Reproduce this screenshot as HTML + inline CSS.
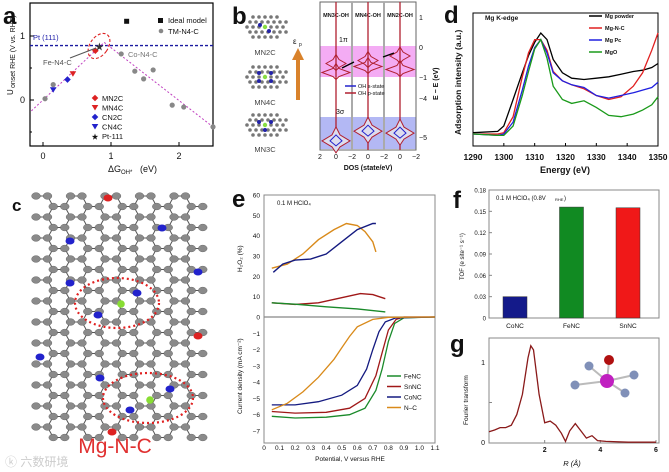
<!DOCTYPE html>
<html><head><meta charset="utf-8"><style>
body{margin:0;background:#fff}
svg{display:block;font-family:"Liberation Sans","Noto Sans CJK SC",sans-serif}
</style></head><body>
<svg id="s" width="669" height="472" viewBox="0 0 669 472" xmlns="http://www.w3.org/2000/svg">
<g id="ga"></g>
<g id="gb"></g>
<g id="gc"></g>
<g id="gd"></g>
<g id="ge"></g>
<g id="gf"></g>
<g id="gg"></g>
</svg>
<script>
// ---------- data ----------
const aTMx=[0.03,0.15,1.15,1.35,1.48,1.62,1.9,2.07,2.5];
const aTMy=[0.02,0.24,0.72,0.45,0.33,0.47,-0.08,-0.11,-0.42];
const aVolcX=[-0.17,0.9,2.5];
const aVolcY=[-0.17,0.9,-0.42];
const aIdeal=[1.23,1.23];
const aMN2C=[0.77,0.77],aMN4C=[0.44,0.41],aCN2C=[0.36,0.32],aCN4C=[0.15,0.16],aPt=[0.83,0.83];
const aPtLine=0.85;
const dX=[1290,1298,1300,1303,1306,1308,1310,1312,1314,1316,1319,1322,1326,1330,1334,1338,1342,1345,1348,1350];
const dBlack=[0.10,0.11,0.15,0.35,0.55,0.68,0.78,0.85,0.80,0.65,0.55,0.51,0.50,0.51,0.52,0.54,0.56,0.57,0.59,0.62];
const dRed=[0.09,0.09,0.10,0.22,0.52,0.70,0.80,0.80,0.72,0.56,0.49,0.46,0.43,0.38,0.35,0.37,0.45,0.55,0.72,0.85];
const dBlue=[0.09,0.08,0.09,0.18,0.42,0.60,0.74,0.80,0.70,0.55,0.49,0.46,0.44,0.38,0.36,0.38,0.40,0.42,0.44,0.48];
const dGreen=[0.09,0.08,0.08,0.15,0.38,0.56,0.73,0.80,0.66,0.45,0.35,0.32,0.34,0.29,0.23,0.22,0.24,0.27,0.31,0.37];
const eH2X_NC=[0.05,0.15,0.25,0.35,0.45,0.53,0.6,0.65,0.7,0.72], eH2_NC=[24,26,31,38,43,46,45,42,37,32];
const eH2X_Co=[0.06,0.12,0.2,0.3,0.4,0.5,0.6,0.7,0.72], eH2_Co=[22,26,28,28.5,31,37,43,46,46];
const eH2X_Sn=[0.05,0.2,0.35,0.5,0.62,0.7,0.78], eH2_Sn=[7,6.2,7,9.5,11.5,11,9];
const eH2X_Fe=[0.05,0.2,0.4,0.6,0.78], eH2_Fe=[7,6.3,5,4,2.5];
const eJX_Fe=[0.05,0.2,0.4,0.55,0.65,0.72,0.76,0.8,0.84,0.9,1.1], eJ_Fe=[-6.1,-6.2,-6.15,-6.0,-5.6,-4.5,-3.2,-1.5,-0.4,-0.05,0];
const eJX_Sn=[0.05,0.2,0.4,0.55,0.65,0.72,0.76,0.8,0.85,0.9,1.1], eJ_Sn=[-5.8,-5.9,-5.85,-5.6,-5.0,-3.6,-2.2,-0.8,-0.15,0,0];
const eJX_Co=[0.05,0.2,0.35,0.5,0.6,0.66,0.7,0.74,0.78,0.85,1.1], eJ_Co=[-5.4,-5.4,-5.2,-4.8,-4.2,-3.2,-2.0,-0.9,-0.3,-0.05,0];
const eJX_NC=[0.05,0.15,0.25,0.35,0.45,0.5,0.55,0.6,0.7,0.8,1.1], eJ_NC=[-5.7,-5.3,-4.6,-3.7,-2.6,-1.9,-1.2,-0.6,-0.15,-0.02,0];
const fCats=['CoNC','FeNC','SnNC'];
const fVals=[0.03,0.156,0.155];
const fTicks=['0','0.03','0.06','0.09','0.12','0.15','0.18'];
const gR=[0,0.2,0.4,0.6,0.8,1.0,1.2,1.4,1.5,1.6,1.8,2.0,2.2,2.4,2.6,2.75,2.9,3.1,3.3,3.5,3.7,3.9,4.2,5,6];
const gFT=[0.14,0.16,0.19,0.19,0.22,0.35,0.6,1.05,1.2,1.15,0.6,0.25,0.27,0.22,0.12,0.02,0.15,0.24,0.15,0.06,0.09,0.03,0.02,0.01,0.01];

// ---------- helpers ----------
const NS='http://www.w3.org/2000/svg';
function el(p,tag,at,txt){const e=document.createElementNS(NS,tag);for(const k in at)e.setAttribute(k,at[k]);if(txt!==undefined)e.textContent=txt;p.appendChild(e);return e;}
function T(p,x,y,s,txt,extra){return el(p,'text',Object.assign({x:x,y:y,'font-size':s,fill:'#111'},extra||{}),txt);}
function line(p,xs,ys,sx,sy,col,w,dash){let d='';xs.forEach((x,i)=>{d+=(i?'L':'M')+sx(x).toFixed(1)+','+sy(ys[i]).toFixed(1);});const a={d:d,fill:'none',stroke:col,'stroke-width':w||1.2};if(dash)a['stroke-dasharray']=dash;return el(p,'path',a);}
const lin=(d0,d1,r0,r1)=>v=>r0+(v-d0)*(r1-r0)/(d1-d0);

// ---------- panel a ----------
(function(){const g=document.getElementById('ga');
const sx=lin(0,1,43,111), sy=lin(0,1,100,36);
T(g,3,24,24,'a',{'font-weight':'bold'});
el(g,'rect',{x:30,y:3,width:183,height:143,fill:'none',stroke:'#000','stroke-width':1.2});
[0,1,2].forEach(v=>{el(g,'line',{x1:sx(v),x2:sx(v),y1:146,y2:142,stroke:'#000'});T(g,sx(v),159,9,String(v),{'text-anchor':'middle'});});
[[1,'1'],[0,'0']].forEach(([v,t])=>{el(g,'line',{x1:30,x2:34,y1:sy(v),y2:sy(v),stroke:'#000'});T(g,25,sy(v)+3,9,t,{'text-anchor':'end'});});
[0.5,-0.5].forEach(v=>el(g,'line',{x1:30,x2:32,y1:sy(v),y2:sy(v),stroke:'#000'}));
T(g,121,172,9,'ΔG',{'text-anchor':'end'});
T(g,121,174,6,'OH*');T(g,140,172,9,' (eV)');
const yt=T(g,0,0,8,'U',{transform:'translate(13,95) rotate(-90)'});
T(g,0,0,7,'onset RHE (V vs. RHE)',{transform:'translate(15,88) rotate(-90)'});
el(g,'line',{x1:30,x2:213,y1:sy(aPtLine),y2:sy(aPtLine),stroke:'#1a1aa0','stroke-width':1.4,'stroke-dasharray':'3,2'});
T(g,33,40,7.5,'Pt (111)',{fill:'#2222aa'});
line(g,aVolcX,aVolcY,sx,sy,'#c040c0',1,'2,2');
aTMx.forEach((x,i)=>{const c=el(g,'circle',{cx:sx(x),cy:sy(aTMy[i]),r:2.6,fill:'#888'});});
el(g,'rect',{x:sx(aIdeal[0])-2.5,y:sy(aIdeal[1])-2.5,width:5,height:5,fill:'#111'});
const dia=(x,y,c)=>el(g,'path',{d:`M${x},${y-3.3}L${x+3.3},${y}L${x},${y+3.3}L${x-3.3},${y}Z`,fill:c});
const tri=(x,y,c)=>el(g,'path',{d:`M${x-3.3},${y-2.5}L${x+3.3},${y-2.5}L${x},${y+3}Z`,fill:c});
dia(sx(aMN2C[0]),sy(aMN2C[1]),'#d22');tri(sx(aMN4C[0]),sy(aMN4C[1]),'#d22');dia(sx(aCN2C[0]),sy(aCN2C[1]),'#22c');tri(sx(aCN4C[0]),sy(aCN4C[1]),'#22c');
T(g,sx(aPt[0]),sy(aPt[1])+3,9,'★',{'text-anchor':'middle',fill:'#333'});
el(g,'ellipse',{cx:99,cy:46,rx:9,ry:14,fill:'none',stroke:'#d22','stroke-width':1.1,'stroke-dasharray':'3,2',transform:'rotate(35 99 46)'});
T(g,43,65,7.5,'Fe-N4-C',{fill:'#555'});el(g,'line',{x1:70,y1:58,x2:96,y2:48,stroke:'#555','stroke-width':1});
T(g,128,57,7.5,'Co-N4-C',{fill:'#777'});
el(g,'rect',{x:158,y:18,width:5,height:5,fill:'#111'});T(g,168,23,7.5,'Ideal model');
el(g,'circle',{cx:161,cy:31,r:2.3,fill:'#888'});T(g,168,34,7.5,'TM-N4-C');
const L=[['MN2C',dia,'#d22'],['MN4C',tri,'#d22'],['CN2C',dia,'#22c'],['CN4C',tri,'#22c']];
L.forEach((l,i)=>{const y=98+i*9.5;l[1](95,y,l[2]);T(g,102,y+3,7.5,l[0]);});
T(g,95,139,7,'★',{'text-anchor':'middle'});T(g,102,139,7.5,'Pt-111');
})();

// ---------- panel b ----------
(function(){const g=document.getElementById('gb');
T(g,232,24,24,'b',{'font-weight':'bold'});
function cluster(cx,cy,blue){for(let r=-2;r<=2;r++)for(let c=-3;c<=3;c++){if(Math.abs(r)+Math.abs(c)>4)continue;const x=cx+c*6+(r%2?3:0),y=cy+r*5;el(g,'circle',{cx:x,cy:y,r:1.8,fill:'#777'});}
 blue.forEach(p=>el(g,'circle',{cx:cx+p[0],cy:cy+p[1],r:2,fill:'#22a'}));el(g,'circle',{cx:cx,cy:cy,r:2.2,fill:'#8d4'});}
cluster(265,27,[[-5,-2],[4,4]]);cluster(265,77,[[-6,-4],[6,-4],[-6,4],[6,4]]);cluster(265,125,[[-6,-3],[6,-3],[0,5]]);
T(g,265,55,7.5,'MN2C',{'text-anchor':'middle',fill:'#444'});T(g,265,105,7.5,'MN4C',{'text-anchor':'middle',fill:'#444'});T(g,265,152,7.5,'MN3C',{'text-anchor':'middle',fill:'#444'});
el(g,'path',{d:'M296,100L296,60L292,60L298,48L304,60L300,60L300,100Z',fill:'#d9822b'});
T(g,293,44,8,'ε');T(g,299,46,5,'p');
el(g,'rect',{x:320,y:46,width:96,height:31,fill:'#f090f0',opacity:0.75});
el(g,'rect',{x:320,y:117,width:96,height:32,fill:'#9aa0f0',opacity:0.75});
el(g,'rect',{x:320,y:2,width:96,height:148,fill:'none',stroke:'#666'});
[352,384].forEach(x=>el(g,'line',{x1:x,x2:x,y1:2,y2:150,stroke:'#aaa','stroke-width':2}));
['MN3C-OH','MN4C-OH','MN2C-OH'].forEach((t,i)=>T(g,336+i*32,17,5.5,t,{'text-anchor':'middle','font-weight':'bold'}));
const up=lin(0,1,47,17), lo=lin(-4,-5,98,137);
const peaks=[[-0.55,-0.85,-5.1],[-0.45,-0.65,-4.85],[-0.3,-0.75,-4.9]];
[336,368,400].forEach((cx,i)=>{el(g,'line',{x1:cx,x2:cx,y1:2,y2:150,stroke:'#b02030','stroke-width':1.3});
 const p=peaks[i];
 [[p[0],10],[p[1],14]].forEach(([e,w])=>{const y=up(e);el(g,'path',{d:`M${cx-w},${y}L${cx-3},${y-4}L${cx},${y-9}L${cx+3},${y-4}L${cx+w},${y}L${cx+3},${y+4}L${cx},${y+7}L${cx-3},${y+4}Z`,fill:'none',stroke:'#b02030','stroke-width':1});});
 const y=lo(p[2]);el(g,'path',{d:`M${cx-14},${y}L${cx-4},${y-6}L${cx},${y-14}L${cx+4},${y-6}L${cx+14},${y}L${cx+4},${y+6}L${cx},${y+12}L${cx-4},${y+6}Z`,fill:'#dde',stroke:'#b02030','stroke-width':1});
 el(g,'path',{d:`M${cx-6},${y}L${cx},${y-6}L${cx+6},${y}L${cx},${y+5}Z`,fill:'none',stroke:'#22c','stroke-width':1});});
el(g,'line',{x1:342,y1:68,x2:354,y2:62,stroke:'#000','stroke-width':1.3});el(g,'line',{x1:383,y1:57,x2:394,y2:53,stroke:'#000','stroke-width':1.3});
T(g,339,42,7,'1π');T(g,336,114,7,'3σ');
el(g,'line',{x1:345,x2:356,y1:86,y2:86,stroke:'#22c','stroke-width':1.5});T(g,358,88,5.5,'OH s-state');
el(g,'line',{x1:345,x2:356,y1:93,y2:93,stroke:'#b02030','stroke-width':1.5});T(g,358,95,5.5,'OH p-state');
[['1',17],['0',47],['−1',77],['−4',98],['−5',137]].forEach(([t,y])=>T(g,419,y+3,7,t));
['2','0','−2','0','−2','0','−2'].forEach((t,i)=>T(g,320+i*16,159,7,t,{'text-anchor':'middle'}));
T(g,368,170,7,'DOS (state/eV)',{'text-anchor':'middle','font-weight':'bold'});
T(g,0,0,7,'E − E (eV)',{transform:'translate(438,100) rotate(-90)','font-weight':'bold'});
})();

// ---------- panel c ----------
(function(){const g=document.getElementById('gc');
T(g,12,211,17,'c',{'font-weight':'bold'});
const atoms=[];const a=11.5,dy=10.5;
for(let r=0;r<24;r++)for(let k=-1;k<6;k++){const base=36+k*3*a;const offs=(r%2)?[1.5*a,2.5*a]:[0,a];
 offs.forEach(o=>{const x=base+o;if(x>=33&&x<=208)atoms.push([x,196+r*dy]);});}
atoms.forEach((p,i)=>{atoms.forEach((q,j)=>{if(j<=i)return;const d=Math.hypot(p[0]-q[0],p[1]-q[1]);if(d<a*1.15)el(g,'line',{x1:p[0],y1:p[1],x2:q[0],y2:q[1],stroke:'#555','stroke-width':1});});});
atoms.forEach(p=>el(g,'ellipse',{cx:p[0],cy:p[1],rx:4.4,ry:3.4,fill:'#8a8a8a',stroke:'#555','stroke-width':0.4}));
[[70,241,'#22c'],[70,283,'#22c'],[40,357,'#22c'],[100,378,'#22c'],[162,228,'#22c'],[198,272,'#22c'],[137,293,'#22c'],[98,315,'#22c'],[170,389,'#22c'],[130,410,'#22c'],[108,198,'#d22'],[198,336,'#d22'],[112,432,'#d22']].forEach(p=>el(g,'ellipse',{cx:p[0],cy:p[1],rx:4.5,ry:3.5,fill:p[2]}));
el(g,'circle',{cx:121,cy:304,r:3.8,fill:'#8d3'});el(g,'circle',{cx:150,cy:400,r:3.8,fill:'#8d3'});
el(g,'ellipse',{cx:117,cy:303,rx:42,ry:25,fill:'none',stroke:'#e02020','stroke-width':2.2,'stroke-dasharray':'2,3'});
el(g,'ellipse',{cx:148,cy:398,rx:45,ry:25,fill:'none',stroke:'#e02020','stroke-width':2.2,'stroke-dasharray':'2,3'});
T(g,115,453,21,'Mg-N-C',{'text-anchor':'middle',fill:'#e03030'});
T(g,5,466,12,'ⓚ 六数研境',{fill:'#ccc'});
})();

// ---------- panel d ----------
(function(){const g=document.getElementById('gd');
T(g,444,23,24,'d',{'font-weight':'bold'});
const sx=lin(1290,1350,473,658), sy=v=>146-v*133;
el(g,'rect',{x:473,y:13,width:185,height:133,fill:'none',stroke:'#000','stroke-width':1});
for(let v=1290;v<=1350;v+=10){el(g,'line',{x1:sx(v),x2:sx(v),y1:146,y2:143,stroke:'#000'});T(g,sx(v),160,8.5,String(v),{'text-anchor':'middle','font-weight':'bold'});}
T(g,565,173,9,'Energy (eV)',{'text-anchor':'middle','font-weight':'bold'});
T(g,0,0,8.5,'Adsorption intensity (a.u.)',{transform:'translate(461,135) rotate(-90)','font-weight':'bold'});
T(g,485,20,6.5,'Mg K-edge',{'font-weight':'bold'});
const S=[['Mg powder',dBlack,'#000'],['Mg-N-C',dRed,'#e02020'],['Mg Pc',dBlue,'#2020e0'],['MgO',dGreen,'#1a9a1a']];
S.forEach((s,i)=>{line(g,dX,s[1],sx,sy,s[2],1.3);
 const y=16+i*12;el(g,'line',{x1:589,x2:602,y1:y,y2:y,stroke:s[2],'stroke-width':1.5});T(g,605,y+2,5.5,s[0],{'font-weight':'bold'});});
})();

// ---------- panel e ----------
(function(){const g=document.getElementById('ge');
T(g,232,207,24,'e',{'font-weight':'bold'});
const sx=lin(0,1.1,264,435), sh=lin(0,60,317,195), sj=lin(0,-7,317,431);
el(g,'rect',{x:264,y:195,width:171,height:248,fill:'none',stroke:'#888'});
el(g,'line',{x1:264,x2:435,y1:317,y2:317,stroke:'#888','stroke-width':1.2});
for(let v=10;v<=60;v+=10)T(g,260,sh(v)+2.5,6.5,String(v),{'text-anchor':'end'});
for(let v=0;v>=-7;v--)T(g,260,sj(v)+2.5,6.5,v===0?'0':'−'+(-v),{'text-anchor':'end'});
for(let i=0;i<=11;i++){const v=i/10;T(g,sx(v),450,6.5,i===0?'0':v.toFixed(1),{'text-anchor':'middle'});}
T(g,350,461,6.5,'Potential, V versus RHE',{'text-anchor':'middle'});
T(g,0,0,6.5,'H₂O₂ (%)',{transform:'translate(242,272) rotate(-90)'});
T(g,0,0,6.5,'Current density (mA cm⁻²)',{transform:'translate(242,414) rotate(-90)'});
T(g,277,205,6,'0.1 M HClO₄');
const C={Fe:'#1a8a2a',Sn:'#a01818',Co:'#141a80',NC:'#d98a1a'};
line(g,eH2X_NC,eH2_NC,sx,sh,C.NC,1.4);
line(g,eH2X_Co,eH2_Co,sx,sh,C.Co,1.4);
line(g,eH2X_Sn,eH2_Sn,sx,sh,C.Sn,1.4);
line(g,eH2X_Fe,eH2_Fe,sx,sh,C.Fe,1.4);
line(g,eJX_Fe,eJ_Fe,sx,sj,C.Fe,1.3);
line(g,eJX_Sn,eJ_Sn,sx,sj,C.Sn,1.3);
line(g,eJX_Co,eJ_Co,sx,sj,C.Co,1.3);
line(g,eJX_NC,eJ_NC,sx,sj,C.NC,1.3);
[['FeNC',C.Fe],['SnNC',C.Sn],['CoNC',C.Co],['N–C',C.NC]].forEach((l,i)=>{const y=376+i*10.5;el(g,'line',{x1:387,x2:401,y1:y,y2:y,stroke:l[1],'stroke-width':1.5});T(g,404,y+2.5,6.5,l[0]);});
})();

// ---------- panel f ----------
(function(){const g=document.getElementById('gf');
T(g,453,208,24,'f',{'font-weight':'bold'});
const sy=lin(0,0.18,318,190), sx=i=>515+i*56.5;
el(g,'rect',{x:489,y:190,width:170,height:128,fill:'none',stroke:'#888'});
fTicks.forEach((t,i)=>{const y=sy(i*0.03);el(g,'line',{x1:489,x2:492,y1:y,y2:y,stroke:'#888'});T(g,486,y+2.5,6,t,{'text-anchor':'end'});});
const cols=['#141a8a','#118a22','#f01818'];
fVals.forEach((v,i)=>{const b=el(g,'rect',{x:sx(i)-12,y:sy(v),width:24,height:318-sy(v),fill:cols[i],stroke:'#333','stroke-width':0.5});
 T(g,sx(i),328,6.5,fCats[i],{'text-anchor':'middle'});});
T(g,496,200,6,'0.1 M  HClO₄ (0.8V');T(g,555,201,4,'RHE');T(g,564,200,6,')');
T(g,0,0,6,'TOF (e site⁻¹ s⁻¹)',{transform:'translate(464,280) rotate(-90)'});
})();

// ---------- panel g ----------
(function(){const g=document.getElementById('gg');
T(g,450,352,24,'g',{'font-weight':'bold'});
const sx=lin(0,6,489,656), sy=lin(0,1,443,362);
el(g,'rect',{x:489,y:338,width:170,height:105,fill:'none',stroke:'#888'});
[2,4,6].forEach(v=>{el(g,'line',{x1:sx(v),x2:sx(v),y1:443,y2:440,stroke:'#888'});T(g,sx(v),452,7,String(v),{'text-anchor':'middle','font-weight':'bold'});});
T(g,485,445,7,'0',{'text-anchor':'end'});T(g,485,365,7,'1',{'text-anchor':'end'});
el(g,'line',{x1:489,x2:492,y1:sy(0.5),y2:sy(0.5),stroke:'#888'});
T(g,0,0,6.5,'Fourier transform',{transform:'translate(468,425) rotate(-90)'});
T(g,572,466,7.5,'R (Å)',{'text-anchor':'middle','font-style':'italic'});
line(g,gR,gFT,sx,sy,'#8a1a1a',1.3);
[[589,366],[575,385],[634,375],[625,393]].forEach(p=>{el(g,'line',{x1:607,y1:381,x2:p[0],y2:p[1],stroke:'#bbb','stroke-width':2});});
el(g,'line',{x1:607,y1:381,x2:609,y2:361,stroke:'#bbb','stroke-width':2});
el(g,'circle',{cx:609,cy:360,r:5,fill:'#b01010'});
el(g,'circle',{cx:607,cy:381,r:7,fill:'#c020c0'});
[[589,366],[575,385],[634,375],[625,393]].forEach(p=>el(g,'circle',{cx:p[0],cy:p[1],r:4.5,fill:'#8090b8'}));
})();
</script>
</body></html>
